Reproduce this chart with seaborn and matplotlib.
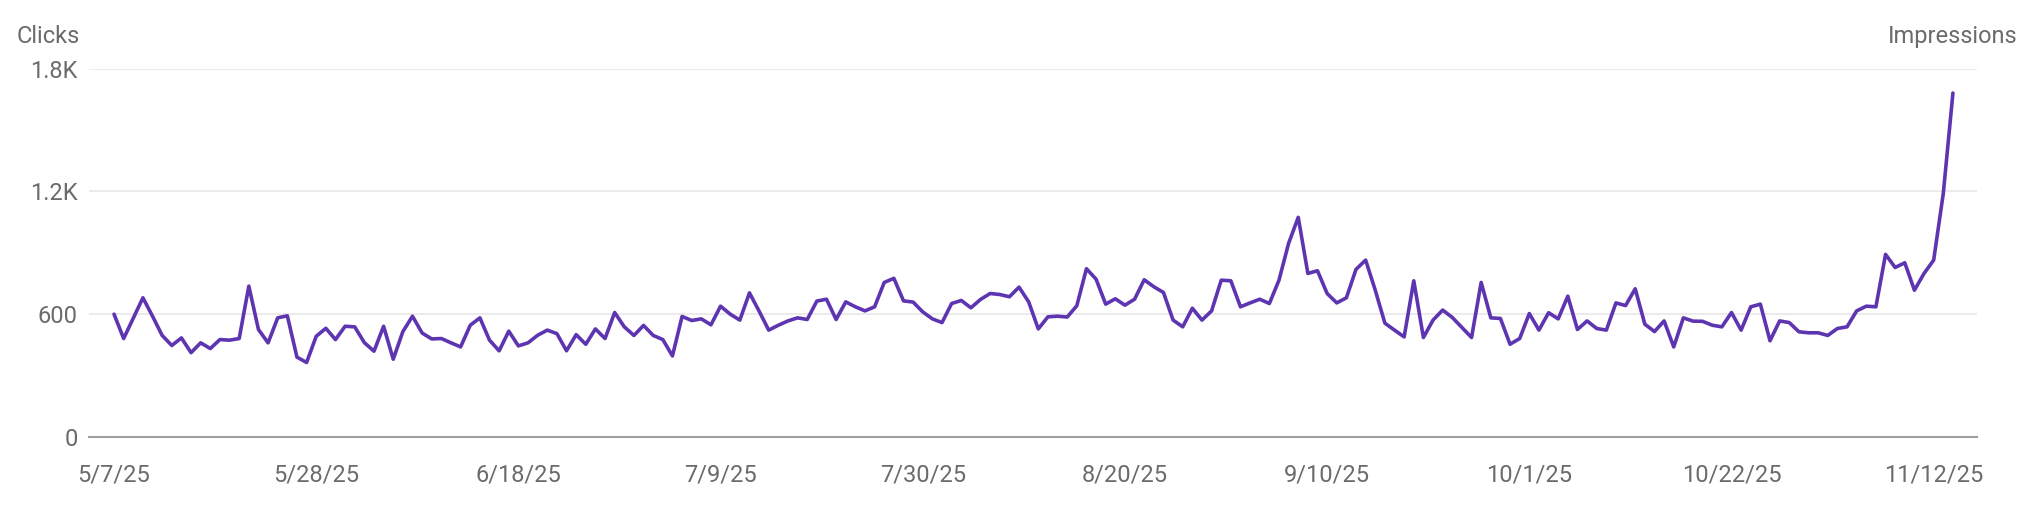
"""
plot.py - daily clicks line chart (Search Console style)
"""

import numpy as np
import pandas as pd
import matplotlib
matplotlib.use("Agg")
import matplotlib.pyplot as plt
import seaborn as sns

# ── Data (daily clicks, 5/7/25 - 11/14/25) ─────────────────────────────────
start_date = "2025-05-07"
may_clicks = [600, 481, 580, 680, 590, 496, 447, 484, 412, 460, 432, 476, 473,
              481, 737, 525, 460, 582, 592, 390, 364, 492, 531, 476, 541]
jun_clicks = [538, 461, 419, 541, 380, 515, 590, 508, 479, 481, 460, 440, 546,
              582, 473, 421, 517, 445, 460, 497, 522, 505, 421, 500, 453, 528,
              481, 608, 538, 496]
jul_clicks = [545, 496, 476, 396, 589, 569, 577, 548, 639, 600, 571, 704, 615,
              522, 546, 567, 582, 574, 664, 673, 574, 660, 636, 616, 636, 755,
              775, 665, 659, 611, 577]
aug_clicks = [559, 652, 667, 631, 672, 701, 696, 685, 732, 660, 528, 587, 590,
              586, 641, 822, 771, 649, 675, 644, 673, 768, 734, 706, 571, 538,
              629, 571, 616, 766, 763]
sep_clicks = [636, 655, 673, 652, 766, 946, 1073, 799, 812, 701, 655, 680, 819,
              864, 717, 556, 522, 489, 763, 486, 571, 620, 584, 535, 486, 755,
              582, 579, 453, 481]
oct_clicks = [603, 522, 607, 577, 688, 525, 567, 530, 522, 655, 642, 724, 551,
              515, 567, 440, 582, 566, 565, 546, 538, 608, 522, 636, 649, 470,
              567, 559, 514, 509, 509]
nov_clicks = [496, 530, 538, 616, 639, 636, 892, 828, 851, 717, 799, 864, 1190,
              1680]

y_ticks = [0, 600, 1200, 1800]
y_tick_labels = ["0", "600", "1.2K", "1.8K"]
x_tick_dates = ["2025-05-07", "2025-05-28", "2025-06-18", "2025-07-09",
                "2025-07-30", "2025-08-20", "2025-09-10", "2025-10-01",
                "2025-10-22", "2025-11-12"]

clicks = may_clicks + jun_clicks + jul_clicks + aug_clicks + sep_clicks + oct_clicks + nov_clicks
df = pd.DataFrame({
    "date": pd.date_range(start_date, periods=len(clicks), freq="D"),
    "clicks": clicks,
})

# ── Style ──────────────────────────────────────────────────────────────────
sns.set_theme(style="white")
plt.rcParams["font.family"] = ["Roboto", "DejaVu Sans"]

TEXT = "#6b6b6b"
LINE = "#5e35b1"

fig = plt.figure(figsize=(20.3, 5.26), dpi=100)
ax = fig.add_axes([89 / 2030, 1 - 437 / 526, (1977 - 89) / 2030, (437 - 68.5) / 526])

for y in y_ticks[1:]:
    ax.axhline(y, color="#e6e6e6", linewidth=1.1, zorder=0)

sns.lineplot(data=df, x="date", y="clicks", ax=ax, color=LINE, linewidth=2.6,
             solid_joinstyle="round", solid_capstyle="round")

t0 = df["date"].iloc[0]
ax.set_xlim(t0 - pd.Timedelta(days=2.6), t0 + pd.Timedelta(days=193.5))
ax.set_ylim(0, 1800)

tick_dates = pd.to_datetime(x_tick_dates)
ax.set_xticks(tick_dates)
ax.set_xticklabels([f"{d.month}/{d.day}/{d:%y}" for d in tick_dates])
ax.set_yticks(y_ticks)
ax.set_yticklabels(y_tick_labels)

ax.tick_params(axis="x", length=0, pad=19, labelsize=17, colors=TEXT)
ax.tick_params(axis="y", length=0, pad=8, labelsize=17, colors=TEXT)
ax.set_xlabel("")
ax.set_ylabel("")

for side in ["top", "right", "left"]:
    ax.spines[side].set_visible(False)
ax.spines["bottom"].set_color("#9e9e9e")
ax.spines["bottom"].set_linewidth(1.5)

fig.text(17 / 2030, 1 - 43 / 526, "Clicks", ha="left", va="baseline",
         fontsize=17, color=TEXT)
fig.text(2017 / 2030, 1 - 43 / 526, "Impressions", ha="right", va="baseline",
         fontsize=17, color=TEXT)

fig.savefig("out.png", dpi=100, facecolor="white")
plt.close(fig)
